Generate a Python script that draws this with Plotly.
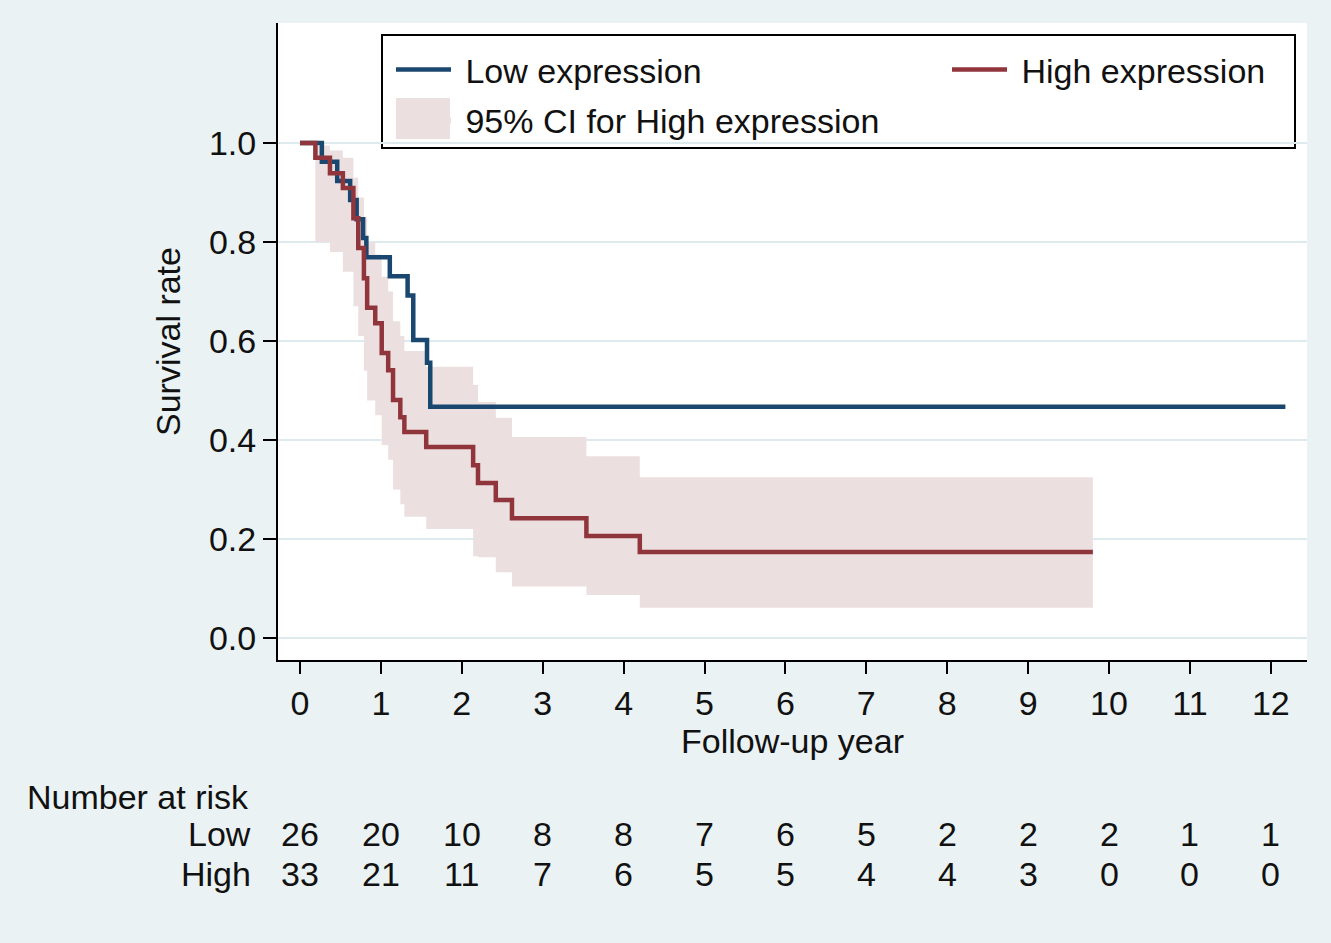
import plotly.graph_objects as go

# ---------------- data ----------------
# Kaplan-Meier step curve, Low expression
low_t = [0.00, 0.27, 0.46, 0.62, 0.70, 0.78, 0.82, 1.11, 1.33, 1.40, 1.57, 1.61, 12.18]
low_s = [1.000, 0.962, 0.923, 0.885, 0.846, 0.808, 0.769, 0.731, 0.692, 0.602, 0.556, 0.467, 0.467]

# Kaplan-Meier step curve, High expression
high_t = [0.00, 0.19, 0.37, 0.53, 0.66, 0.72, 0.79, 0.83, 0.93, 1.01, 1.09, 1.15, 1.24,
          1.29, 1.56, 2.14, 2.20, 2.42, 2.62, 3.54, 4.20, 9.80]
high_s = [1.000, 0.970, 0.939, 0.909, 0.848, 0.788, 0.727, 0.667, 0.636, 0.576, 0.541, 0.481,
          0.446, 0.416, 0.386, 0.349, 0.313, 0.279, 0.242, 0.206, 0.174, 0.174]

# 95% CI for High expression (step bounds)
ci_t = [0.19, 0.37, 0.53, 0.66, 0.72, 0.79, 0.83, 0.93, 1.01, 1.09, 1.15, 1.24, 1.29,
        1.56, 2.14, 2.20, 2.42, 2.62, 3.54, 4.20, 9.80]
ci_lo = [0.800, 0.780, 0.740, 0.670, 0.610, 0.540, 0.480, 0.450, 0.390, 0.360, 0.300, 0.270,
         0.245, 0.220, 0.165, 0.163, 0.133, 0.104, 0.087, 0.061, 0.061]
ci_hi = [0.995, 0.985, 0.970, 0.930, 0.890, 0.850, 0.800, 0.775, 0.730, 0.700, 0.640, 0.610,
         0.580, 0.548, 0.511, 0.477, 0.445, 0.406, 0.367, 0.325, 0.325]

# Number at risk table
risk_years = [0, 1, 2, 3, 4, 5, 6, 7, 8, 9, 10, 11, 12]
risk_low = [26, 20, 10, 8, 8, 7, 6, 5, 2, 2, 2, 1, 1]
risk_high = [33, 21, 11, 7, 6, 5, 5, 4, 4, 3, 0, 0, 0]

x_ticks = list(range(0, 13))
y_ticks = [0.0, 0.2, 0.4, 0.6, 0.8, 1.0]

# ---------------- style ----------------
NAVY = "#1A476F"
MAROON = "#90353B"
CI_FILL = "rgb(236,223,224)"
BG = "#EAF2F3"
FONT = "Liberation Sans, Arial, sans-serif"
TXT = "#111111"
FS = 34
NB = "\u00a0"

W, H = 1331, 943
ML, MR, MT, MB = 278, 24, 23, 283
PW, PH = W - ML - MR, H - MT - MB


def px_x(p):
    return (p - ML) / PW


def px_y(p):
    return (H - MB - p) / PH


fig = go.Figure()

# CI band
fig.add_trace(go.Scatter(x=ci_t, y=ci_lo, mode="lines", line=dict(width=0, shape="hv", color=CI_FILL),
                         showlegend=False, hoverinfo="skip"))
fig.add_trace(go.Scatter(x=ci_t, y=ci_hi, mode="lines", line=dict(width=0, shape="hv", color=CI_FILL),
                         fill="tonexty", fillcolor=CI_FILL, name=NB + "95% CI for High expression",
                         legend="legend3", showlegend=True))

fig.add_trace(go.Scatter(x=low_t, y=low_s, mode="lines", line=dict(color=NAVY, width=4.5, shape="hv"),
                         name=NB + "Low expression", legend="legend"))
fig.add_trace(go.Scatter(x=high_t, y=high_s, mode="lines", line=dict(color=MAROON, width=4.5, shape="hv"),
                         name=NB + "High expression", legend="legend2"))

# Number at risk annotations
fnt = dict(size=FS, color=TXT, family=FONT)
ann = [dict(text="Number at risk", xref="paper", yref="paper", x=px_x(25), y=px_y(797),
            xanchor="left", yanchor="middle", showarrow=False, font=fnt),
       dict(text="Low", xref="paper", yref="paper", x=px_x(253), y=px_y(834),
            xanchor="right", yanchor="middle", showarrow=False, font=fnt),
       dict(text="High", xref="paper", yref="paper", x=px_x(253), y=px_y(874),
            xanchor="right", yanchor="middle", showarrow=False, font=fnt)]
for xv, a, b in zip(risk_years, risk_low, risk_high):
    ann.append(dict(text=str(a), xref="x", yref="paper", x=xv, y=px_y(834), xanchor="center",
                    yanchor="middle", showarrow=False, font=fnt))
    ann.append(dict(text=str(b), xref="x", yref="paper", x=xv, y=px_y(874), xanchor="center",
                    yanchor="middle", showarrow=False, font=fnt))

leg_common = dict(orientation="v", xanchor="left", yanchor="middle", bgcolor="rgba(0,0,0,0)",
                  borderwidth=0, font=fnt, itemwidth=55)

fig.update_layout(
    width=W, height=H,
    margin=dict(l=ML, r=MR, t=MT, b=MB),
    paper_bgcolor=BG, plot_bgcolor="white",
    font=dict(family=FONT, size=FS, color=TXT),
    xaxis=dict(range=[-0.272, 12.447], tickmode="array", tickvals=x_ticks, ticktext=[str(v) for v in x_ticks],
               showgrid=False, zeroline=False, showline=True, linecolor="black", linewidth=2,
               ticks="outside", ticklen=12, tickwidth=2, tickcolor="black",
               title=dict(text="Follow-up year", standoff=8, font=fnt),
               tickfont=fnt),
    yaxis=dict(range=[-0.0444, 1.2424], tickmode="array", tickvals=y_ticks,
               ticktext=["%.1f" % v for v in y_ticks],
               showgrid=True, gridcolor="#DDEBEF", gridwidth=1.5, zeroline=False,
               showline=True, linecolor="black", linewidth=2,
               ticks="outside", ticklen=13, tickwidth=2, tickcolor="black",
               title=dict(text="Survival rate", standoff=18, font=fnt),
               tickfont=fnt),
    legend=dict(x=px_x(391), y=px_y(70), **leg_common),
    legend2=dict(x=px_x(947), y=px_y(70), **leg_common),
    legend3=dict(x=px_x(391), y=px_y(120), **leg_common),
    annotations=ann,
    shapes=[dict(type="rect", xref="paper", yref="paper", x0=px_x(382), x1=px_x(1295),
                 y0=px_y(148), y1=px_y(35), line=dict(color="black", width=2), fillcolor="white",
                 layer="below"),
            # legend key swatch for the CI band
            dict(type="rect", xref="paper", yref="paper", x0=px_x(396), x1=px_x(450),
                 y0=px_y(139), y1=px_y(98), line=dict(width=0), fillcolor=CI_FILL, layer="above")],
)

fig.write_html("out.html", config={"displayModeBar": False},
               post_script="document.body.style.margin='0px';")
